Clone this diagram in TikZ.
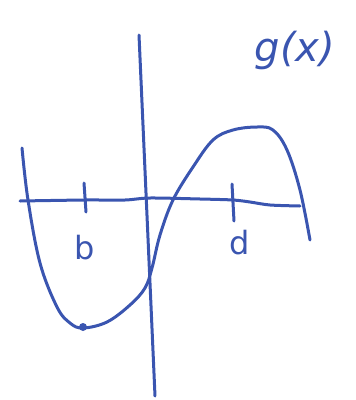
\documentclass[tikz,border=0pt]{standalone}
\usepackage{fontspec}
\setmainfont{DejaVu Sans}
\begin{document}
\begin{tikzpicture}[x=1pt,y=-1pt,
  ink/.style={draw=penblue,line width=3pt,line cap=round,line join=round},
  lbl/.style={text=penblue,inner sep=0pt,font=\fontsize{32}{32}\selectfont}]
\definecolor{penblue}{HTML}{3A55B0}
\useasboundingbox (0,0) rectangle (356,400);
% axes
\coordinate (ytop) at (139,35);
\coordinate (ybot) at (155,396);
\draw[ink] (ytop) -- (ybot);
\draw[ink] plot[smooth,tension=0.5] coordinates {(20,201) (85,200) (125,200) (150,198) (200,199) (233,200) (250,202) (270,205) (300,206)};
% ticks
\coordinate (bt1) at (84,183); \coordinate (bt2) at (86,212);
\coordinate (dt1) at (232,184); \coordinate (dt2) at (234,221);
\draw[ink] (bt1) -- (bt2);
\draw[ink] (dt1) -- (dt2);
% curve
\draw[ink] plot[smooth,tension=0.6] coordinates {(22,148) (28,200) (40,263) (57,307) (70,323) (83,328) (107,322) (130,305) (145,288) (152,268) (160,235) (173,200) (193,167) (213,140) (233,130) (257,127) (273,130) (287,150) (300,190) (310,240)};
\node[circle,fill=penblue,inner sep=0pt,minimum size=8pt] (min) at (83,327) {};
% labels
\node[lbl] (b) at (85,248) {b};
\node[lbl] (d) at (240,243) {d};
\node[lbl,font=\fontsize{40}{40}\selectfont\itshape] (g) at (295,50) {g(x)};
\end{tikzpicture}
\end{document}
